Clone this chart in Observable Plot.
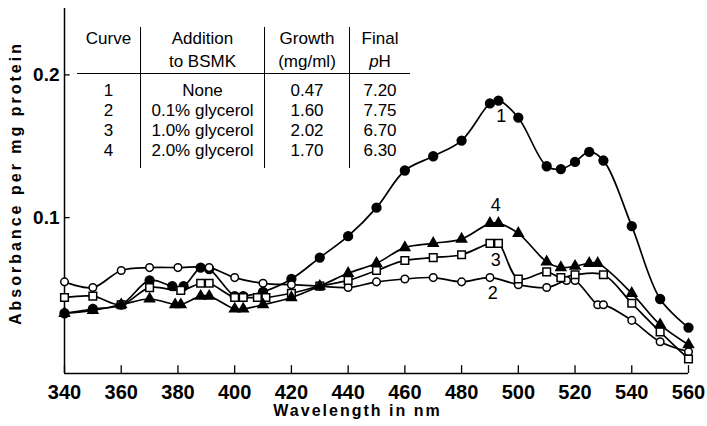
<!DOCTYPE html>
<html><head><meta charset="utf-8">
<script src="https://cdn.jsdelivr.net/npm/d3@7"></script>
<script src="https://cdn.jsdelivr.net/npm/@observablehq/plot@0.6"></script>
<style>
body{margin:0;background:#fff;}
#wrap{position:relative;width:707px;height:426px;overflow:hidden;}
#wrap svg{display:block;}
table.leg{position:absolute;left:77px;top:27px;border-collapse:collapse;font-family:"Liberation Sans",sans-serif;font-size:17px;color:#000;}
table.leg td{padding:0;text-align:center;line-height:20px;white-space:nowrap;}
table.leg thead td{line-height:23px;border-bottom:1.6px solid #000;}
table.leg td.c1{width:63px;}
table.leg td.c2{width:123px;border-left:1.3px solid #000;}
table.leg td.c3{width:84px;border-left:1.3px solid #000;}
table.leg td.c4{width:60px;border-left:1.3px solid #000;}
table.leg tbody tr:first-child td{padding-top:7px;}
table.leg tbody tr:last-child td{padding-bottom:7px;}
</style></head>
<body><div id="wrap"></div>
<script>
// ---- data ----
const c1W = [340,350,360,370,378,382,388,391,400,403,410,420,430,440,450,460,470,480,490,493,500,510,515,520,525,530,540,550,560];
const c1V = [0.033,0.036,0.039,0.056,0.052,0.052,0.065,0.064,0.045,0.045,0.048,0.057,0.072,0.087,0.107,0.133,0.143,0.154,0.180,0.182,0.170,0.136,0.134,0.139,0.146,0.140,0.094,0.043,0.023];

const c2W = [340,350,360,370,380,391,400,410,420,430,440,450,460,470,480,490,500,510,517,520,528,530,540,550,560];
const c2V = [0.055,0.051,0.063,0.065,0.065,0.065,0.058,0.054,0.053,0.052,0.051,0.055,0.057,0.058,0.055,0.058,0.053,0.051,0.056,0.056,0.039,0.039,0.028,0.013,0.006];

const c3W = [340,350,360,370,381,388,391,400,403,408,411,420,430,440,450,460,470,480,490,493,500,510,515,520,530,540,550,560];
const c3V = [0.044,0.045,0.039,0.051,0.049,0.054,0.054,0.044,0.044,0.044,0.044,0.047,0.052,0.056,0.063,0.070,0.072,0.074,0.082,0.082,0.057,0.062,0.058,0.060,0.060,0.040,0.020,0.001];

const c4W = [340,350,360,370,379,381,388,391,400,403,410,420,430,440,450,460,470,480,490,493,500,510,515,520,525,528,540,550,560];
const c4V = [0.033,0.035,0.039,0.043,0.039,0.039,0.045,0.045,0.036,0.036,0.039,0.044,0.052,0.061,0.068,0.079,0.082,0.085,0.096,0.096,0.089,0.069,0.065,0.066,0.068,0.068,0.047,0.025,0.011];

const curveLabels = ["1","4","3","2"];
const curveLabelW = [494,492,492,491];
const curveLabelV = [0.171,0.109,0.070,0.047];

const xTicks = [340,360,380,400,420,440,460,480,500,520,540,560];
const yTicks = [0.1,0.2];

const tableCurve = ["1","2","3","4"];
const tableAddition = ["None","0.1% glycerol","1.0% glycerol","2.0% glycerol"];
const tableGrowth = ["0.47","1.60","2.02","1.70"];
const tablePH = ["7.20","7.75","6.70","6.30"];

const yTitle = "Absorbance per mg protein";
const xTitle = "Wavelength in nm";

// ---- build ----
const yMin = -0.0092, yMax = 0.2465;
const series = [
  {id:"1", w:c1W, v:c1V, symbol:"circle", fill:"black", stroke:"black", r:4.4},
  {id:"2", w:c2W, v:c2V, symbol:"circle", fill:"white", stroke:"black", r:3.8},
  {id:"3", w:c3W, v:c3V, symbol:"square", fill:"white", stroke:"black", r:4.3},
  {id:"4", w:c4W, v:c4V, symbol:"triangle", fill:"black", stroke:"black", r:3.7}
];
const rows = series.flatMap(s => s.w.map((w,i) => ({curve:s.id, w, v:s.v[i]})));
const labels = curveLabels.map((t,i) => ({t, w:curveLabelW[i], v:curveLabelV[i]}));

const plot = Plot.plot({
  width:707, height:426,
  marginLeft:64, marginRight:19, marginTop:8, marginBottom:53,
  x:{domain:[340,560]},
  y:{domain:[yMin,yMax]},
  style:{fontFamily:"Liberation Sans, sans-serif", background:"white", color:"black"},
  marks:[
    Plot.ruleX([340], {stroke:"black", strokeWidth:1.5}),
    Plot.ruleY([yMin], {stroke:"black", strokeWidth:1.5}),
    Plot.ruleX(xTicks, {x:d=>d, y1:yMin, y2:yMin+0.0055, stroke:"black", strokeWidth:1.3}),
    Plot.ruleY(yTicks, {y:d=>d, x1:340, x2:342, stroke:"black", strokeWidth:1.3}),
    Plot.axisX({ticks:xTicks, tickSize:0, tickPadding:11, fontSize:20, fontWeight:"bold", label:null}),
    Plot.axisY({ticks:yTicks, tickSize:0, tickPadding:5, tickFormat:d3.format(".1f"), fontSize:19, fontWeight:"bold", label:null}),
    Plot.line(rows, {x:"w", y:"v", z:"curve", curve:"catmull-rom", stroke:"black", strokeWidth:1.7}),
    ...series.map(s => Plot.dot(rows.filter(d => d.curve === s.id), {x:"w", y:"v", symbol:s.symbol, r:s.r, fill:s.fill, stroke:s.stroke, strokeWidth:1.5})),
    Plot.text(labels, {x:"w", y:"v", text:"t", fontSize:18}),
    Plot.text([yTitle], {text:d=>d, frameAnchor:"left", textAnchor:"middle", rotate:-90, dx:-49, dy:-8, fontSize:16, fontWeight:"bold"}),
    Plot.text([xTitle], {text:d=>d, frameAnchor:"bottom", textAnchor:"middle", dx:-19, dy:42, fontSize:16, fontWeight:"bold"})
  ]
});
d3.select(plot).selectAll("text").filter(function(){ return this.textContent === yTitle; }).style("letter-spacing","3px");
d3.select(plot).selectAll("text").filter(function(){ return this.textContent === xTitle; }).style("letter-spacing","2px");

const wrap = document.getElementById("wrap");
wrap.appendChild(plot);

// legend table (HTML overlay)
const tbl = document.createElement("table");
tbl.className = "leg";
const head = tbl.createTHead().insertRow();
[["Curve",""],["Addition","to BSMK"],["Growth","(mg/ml)"],["Final","<i>p</i>H"]].forEach((h,i) => {
  const c = head.insertCell(); c.className = "c"+(i+1);
  c.innerHTML = h[0] + "<br>" + (h[1] || "&nbsp;");
});
const body = tbl.createTBody();
tableCurve.forEach((cv,i) => {
  const r = body.insertRow();
  [cv, tableAddition[i], tableGrowth[i], tablePH[i]].forEach((t,j) => {
    const c = r.insertCell(); c.className = "c"+(j+1); c.textContent = t;
  });
});
wrap.appendChild(tbl);
</script></body></html>
